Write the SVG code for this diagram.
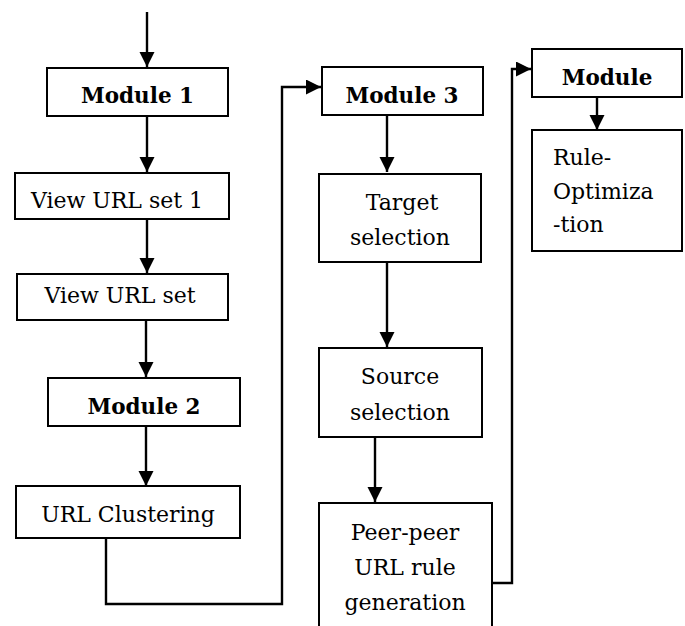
<svg xmlns="http://www.w3.org/2000/svg" width="685" height="626" viewBox="0 0 685 626">
<style>
.box{fill:#fff;stroke:#000;stroke-width:2}
.t{font-family:"DejaVu Serif","Liberation Serif",serif;font-size:22px;fill:#000;text-anchor:middle}
.b{font-weight:bold;font-size:21.5px}
.l{text-anchor:start}
.c{fill:none;stroke:#000;stroke-width:2.4}
</style>
<defs>
<marker id="ah" markerUnits="userSpaceOnUse" markerWidth="16" markerHeight="16" refX="15" refY="7.5" orient="auto">
<path d="M0,0 L15,7.5 L0,15 Z" fill="#000"/>
</marker>
</defs>
<g id="connectors">
<line class="c" x1="147" y1="12" x2="147" y2="67" marker-end="url(#ah)"/>
<line class="c" x1="147" y1="116" x2="147" y2="172" marker-end="url(#ah)"/>
<line class="c" x1="147" y1="219" x2="147" y2="273" marker-end="url(#ah)"/>
<line class="c" x1="146" y1="320" x2="146" y2="377" marker-end="url(#ah)"/>
<line class="c" x1="146" y1="426" x2="146" y2="486" marker-end="url(#ah)"/>
<path class="c" d="M106,538 V604 H282 V87 H321" marker-end="url(#ah)"/>
<line class="c" x1="387" y1="115" x2="387" y2="172" marker-end="url(#ah)"/>
<line class="c" x1="387" y1="262" x2="387" y2="347" marker-end="url(#ah)"/>
<line class="c" x1="375" y1="437" x2="375" y2="502" marker-end="url(#ah)"/>
<path class="c" d="M492,583 H512 V69 H531" marker-end="url(#ah)"/>
<line class="c" x1="597" y1="97" x2="597" y2="130" marker-end="url(#ah)"/>
</g>
<g id="module1"><rect class="box" x="47" y="68" width="181" height="48"/><text class="t b" x="137.5" y="103">Module 1</text></g>
<g id="viewurlset1"><rect class="box" x="15" y="173" width="214" height="46"/><text class="t" x="117" y="208">View URL set 1</text></g>
<g id="viewurlset"><rect class="box" x="17" y="274" width="211" height="46"/><text class="t" x="120" y="303">View URL set</text></g>
<g id="module2"><rect class="box" x="48" y="378" width="192" height="48"/><text class="t b" x="144" y="414">Module 2</text></g>
<g id="urlclustering"><rect class="box" x="16" y="486" width="224" height="52"/><text class="t" x="128" y="522">URL Clustering</text></g>
<g id="module3"><rect class="box" x="322" y="67" width="161" height="48"/><text class="t b" x="402" y="103">Module 3</text></g>
<g id="targetselection"><rect class="box" x="319" y="174" width="162" height="88"/><text class="t" x="402" y="210">Target</text><text class="t" x="400" y="245">selection</text></g>
<g id="sourceselection"><rect class="box" x="319" y="348" width="163" height="89"/><text class="t" x="400" y="384">Source</text><text class="t" x="400" y="420">selection</text></g>
<g id="peerpeer"><path class="box" d="M319,632 V503 H492 V632"/><text class="t" x="405" y="540">Peer-peer</text><text class="t" x="405" y="575">URL rule</text><text class="t" x="405" y="610">generation</text></g>
<g id="module4"><rect class="box" x="532" y="49" width="150" height="48"/><text class="t b" x="607" y="85">Module</text></g>
<g id="ruleoptimization"><rect class="box" x="532" y="130" width="150" height="121"/><text class="t l" x="553" y="165">Rule-</text><text class="t l" x="553" y="199">Optimiza</text><text class="t l" x="553" y="232">-tion</text></g>
</svg>
